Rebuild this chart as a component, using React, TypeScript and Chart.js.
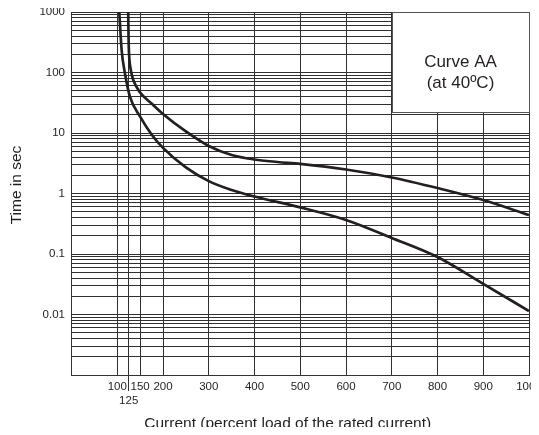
import React, { useEffect, useRef } from "react";
import { Chart, registerables } from "chart.js";

Chart.register(...registerables);

// ---- data ----
const upperCurrent = [124, 124.3, 125, 126.5, 130, 135, 150, 175, 200, 250, 300, 350, 400, 450, 500, 600, 700, 800, 900, 1000];
const upperTime = [1000, 590, 296, 167, 106, 75, 46.7, 30.7, 20.6, 10.6, 6.1, 4.33, 3.65, 3.32, 3.08, 2.49, 1.84, 1.23, 0.78, 0.44];
const lowerCurrent = [104.4, 109.6, 116.8, 127.7, 150, 175, 200, 250, 300, 350, 400, 500, 600, 700, 800, 900, 1000];
const lowerTime = [1000, 235, 97, 39.8, 18.6, 9.45, 5.67, 2.7, 1.6, 1.14, 0.89, 0.59, 0.365, 0.184, 0.089, 0.032, 0.0114];

const currentTicks = [100, 125, 150, 200, 300, 400, 500, 600, 700, 800, 900, 1000];
const currentTickLabels: (string | string[])[] = ["100", ["", "125"], "150", "200", "300", "400", "500", "600", "700", "800", "900", "1000"];
const timeDecades = [0.001, 0.01, 0.1, 1, 10, 100, 1000];
const timeMinorFactors = [2, 3, 4, 5, 6, 7, 8, 9];
const timeLabelValues = [1000, 100, 10, 1, 0.1, 0.01];
const timeTickLabels = ["1000", "100", "10", "1", "0.1", "0.01"];

const noteBoxCurrent = [700, 1000];
const noteBoxTime = [22, 1000];
const noteLines = ["Curve AA", "(at 40ºC)"];
const xTitle = "Current (percent load of the rated current)";
const yTitle = "Time in sec";

const FONT = '"Liberation Sans", Arial, Helvetica, sans-serif';
const INK = "#231f20";
const GRID = "#303030";

const timeGridValues: number[] = [];
timeDecades.forEach((d, i) => {
  timeGridValues.push(d);
  if (i < timeDecades.length - 1) timeMinorFactors.forEach((f) => timeGridValues.push(Number((d * f).toPrecision(6))));
});

const annotatePlugin = {
  id: "annotate",
  beforeDatasetsDraw(chart: any) {
    const { ctx, scales } = chart;
    const x = scales.x, y = scales.y;
    const l = Math.round(x.getPixelForValue(noteBoxCurrent[0]));
    const r = Math.round(x.getPixelForValue(noteBoxCurrent[1]));
    const t = Math.round(y.getPixelForValue(noteBoxTime[1]));
    const b = Math.round(y.getPixelForValue(noteBoxTime[0]));
    ctx.save();
    ctx.fillStyle = "#ffffff";
    ctx.fillRect(l, t, r - l, b - t);
    ctx.strokeStyle = "#555555";
    ctx.lineWidth = 1;
    ctx.strokeRect(l + 0.5, t + 0.5, r - l, b - t);
    ctx.fillStyle = INK;
    ctx.font = `17px ${FONT}`;
    ctx.textAlign = "center";
    ctx.textBaseline = "middle";
    const cx = (l + r) / 2;
    ctx.fillText(noteLines[0], cx, t + 50);
    ctx.fillText(noteLines[1], cx, t + 71);
    ctx.restore();
  },
  afterDraw(chart: any) {
    const { ctx, chartArea } = chart;
    ctx.save();
    ctx.fillStyle = INK;
    ctx.font = `15.5px ${FONT}`;
    ctx.textAlign = "center";
    ctx.textBaseline = "middle";
    const cx = (chartArea.left + chartArea.right) / 2 - 12.5;
    ctx.fillText(xTitle, cx, chart.height - 11);
    const cy = (chartArea.top + chartArea.bottom) / 2 - 8.5;
    ctx.translate(9, cy);
    ctx.rotate(-Math.PI / 2);
    ctx.fillText(yTitle, 0, 0);
    ctx.restore();
  },
};

export default function App() {
  const ref = useRef<HTMLCanvasElement | null>(null);

  useEffect(() => {
    document.documentElement.style.overflow = "hidden";
    const canvas = ref.current;
    if (!canvas) return;
    const line = (xs: number[], ys: number[], label: string) => ({
      label,
      data: xs.map((c, i) => ({ x: c, y: ys[i] })),
      borderColor: INK,
      borderWidth: 2.7,
      pointRadius: 0,
      fill: false,
      cubicInterpolationMode: "monotone",
    });
    const chart = new Chart(canvas, {
      type: "line",
      data: {
        datasets: [line(upperCurrent, upperTime, "upper"), line(lowerCurrent, lowerTime, "lower")],
      },
      options: {
        animation: false,
        responsive: false,
        devicePixelRatio: 1,
        layout: { padding: { top: 4, right: 10, bottom: 0, left: 0 } },
        plugins: { legend: { display: false }, tooltip: { enabled: false }, title: { display: false } },
        scales: {
          x: {
            type: "linear",
            min: 0,
            max: 1000,
            afterBuildTicks: (scale: any) => {
              scale.ticks = currentTicks.map((v) => ({ value: v }));
            },
            afterFit: (scale: any) => {
              scale.height = 60;
              scale.paddingLeft = 0;
              scale.paddingRight = 0;
            },
            border: { display: true, color: "#333333", width: 1 },
            grid: {
              color: GRID,
              lineWidth: 1,
              drawTicks: true,
              tickLength: 16,
              tickColor: (c: any) => (c.tick && c.tick.value === 125 ? GRID : "rgba(0,0,0,0)"),
            },
            ticks: {
              autoSkip: false,
              maxRotation: 0,
              minRotation: 0,
              padding: -11,
              color: INK,
              font: { family: FONT, size: 11.5 },
              callback: (v: any) => {
                const i = currentTicks.indexOf(Number(v));
                return i >= 0 ? currentTickLabels[i] : "";
              },
            },
            title: { display: false },
          },
          y: {
            type: "logarithmic",
            min: 0.001,
            max: 1000,
            afterBuildTicks: (scale: any) => {
              scale.ticks = timeGridValues.map((v) => ({ value: v }));
            },
            afterFit: (scale: any) => {
              scale.width = 63.5;
              scale.paddingTop = 0;
              scale.paddingBottom = 0;
            },
            border: { display: true, color: "#333333", width: 1 },
            grid: { color: GRID, lineWidth: 1, drawTicks: false },
            ticks: {
              autoSkip: false,
              padding: 6.5,
              color: INK,
              font: { family: FONT, size: 11.5 },
              callback: (v: any) => {
                const n = Number(v);
                const i = timeLabelValues.findIndex((t) => Math.abs(t - n) / t < 1e-6);
                return i >= 0 ? timeTickLabels[i] : "";
              },
            },
            title: { display: false },
          },
        },
      },
      plugins: [annotatePlugin],
    } as any);
    return () => chart.destroy();
  }, []);

  return (
    <div style={{ width: 531, height: 427, overflow: "hidden", marginBottom: -8 }}>
      <canvas ref={ref} width={531} height={427} style={{ display: "block" }} />
    </div>
  );
}
